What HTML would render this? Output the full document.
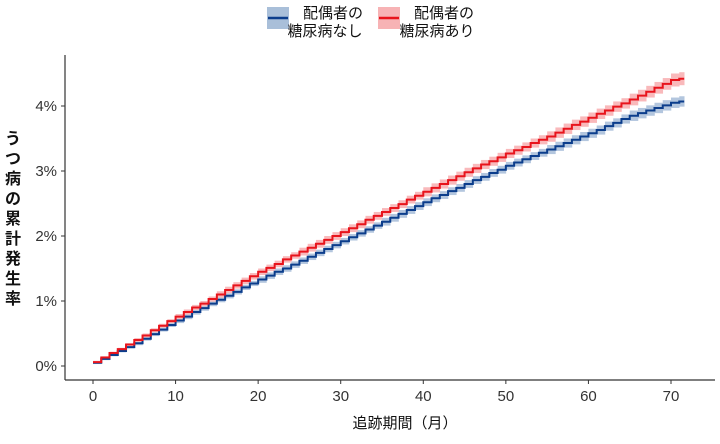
<!DOCTYPE html>
<html><head><meta charset="utf-8"><style>
body{margin:0;background:#fff;width:720px;height:439px;overflow:hidden;font-family:"Liberation Sans","Noto Sans CJK JP",sans-serif;}
</style></head><body>
<svg id="chart" width="720" height="439" xmlns="http://www.w3.org/2000/svg" font-family="Liberation Sans, Noto Sans CJK JP, sans-serif">
<g>
  <g>
    <rect x="267" y="7" width="22" height="22" fill="#a9bfd9"/>
    <line x1="268" y1="18" x2="288" y2="18" stroke="#0b3d8c" stroke-width="2.5"/>
    <text x="333" y="18" font-size="15" text-anchor="middle" fill="#111">配偶者の</text>
    <text x="325" y="36" font-size="15" text-anchor="middle" fill="#111">糖尿病なし</text>
  </g>
  <g>
    <rect x="378" y="7" width="22" height="22" fill="#f7b3b5"/>
    <line x1="379" y1="18" x2="399" y2="18" stroke="#e8141c" stroke-width="2.5"/>
    <text x="444" y="18" font-size="15" text-anchor="middle" fill="#111">配偶者の</text>
    <text x="437" y="36" font-size="15" text-anchor="middle" fill="#111">糖尿病あり</text>
  </g>
</g>
<g id="plot"></g>
<text font-size="16" font-weight="bold" fill="#111" text-anchor="middle">
  <tspan x="13" y="144">う</tspan><tspan x="13" y="164">つ</tspan><tspan x="13" y="184">病</tspan><tspan x="13" y="204">の</tspan><tspan x="13" y="224">累</tspan><tspan x="13" y="244">計</tspan><tspan x="13" y="264">発</tspan><tspan x="13" y="284">生</tspan><tspan x="13" y="304">率</tspan>
</text>
<text x="405" y="428" font-size="15" text-anchor="middle" fill="#111">追跡期間（月）</text>
</svg>
<script>
const months = Array.from({length:72},(_, i)=>i);
const blueValues = [0.05,0.11,0.17,0.23,0.29,0.35,0.42,0.49,0.56,0.63,0.70,0.76,0.83,0.89,0.96,1.02,1.08,1.14,1.21,1.27,1.33,1.39,1.45,1.50,1.56,1.62,1.68,1.74,1.80,1.86,1.92,1.98,2.04,2.10,2.16,2.22,2.28,2.34,2.40,2.46,2.52,2.58,2.63,2.69,2.74,2.80,2.86,2.91,2.97,3.02,3.08,3.13,3.18,3.23,3.28,3.33,3.38,3.43,3.48,3.53,3.58,3.63,3.69,3.74,3.80,3.85,3.89,3.93,3.97,4.01,4.05,4.07];
const redValues = [0.06,0.13,0.20,0.26,0.33,0.40,0.47,0.55,0.62,0.69,0.76,0.83,0.90,0.96,1.03,1.10,1.17,1.24,1.31,1.38,1.45,1.51,1.57,1.64,1.70,1.76,1.82,1.88,1.94,2.00,2.06,2.12,2.18,2.25,2.31,2.37,2.43,2.49,2.56,2.62,2.68,2.74,2.80,2.86,2.92,2.98,3.04,3.10,3.15,3.21,3.27,3.32,3.37,3.43,3.48,3.53,3.59,3.65,3.71,3.76,3.82,3.88,3.93,3.99,4.04,4.10,4.16,4.22,4.28,4.34,4.40,4.42];
const blueHalfWidth = [0.02,0.03,0.04,0.04,0.05,0.05,0.05,0.06,0.06,0.06,0.06,0.07,0.07,0.08,0.08];
const redHalfWidth = [0.02,0.03,0.04,0.05,0.05,0.06,0.06,0.06,0.07,0.07,0.07,0.08,0.08,0.09,0.10];
const xTicks = [0,10,20,30,40,50,60,70];
const yTicks = [0,1,2,3,4];
const yTickLabels = ["0%","1%","2%","3%","4%"];

const NS="http://www.w3.org/2000/svg";
const X0=93, XS=(671-93)/70, Y0=366, YS=(366-106)/4;
const xs=v=>X0+v*XS, ys=v=>Y0-v*YS;
const plot=document.getElementById('plot');
function mk(tag,attrs){const e=document.createElementNS(NS,tag);for(const k in attrs)e.setAttribute(k,attrs[k]);plot.appendChild(e);return e;}

function stepPath(vals){
  let d=`M${xs(months[0])},${ys(vals[0])}`;
  for(let i=0;i<vals.length;i++){
    const xe=i<vals.length-1?months[i+1]:months[i]+0.6;
    d+=` L${xs(xe)},${ys(vals[i])}`;
    if(i<vals.length-1) d+=` L${xs(xe)},${ys(vals[i+1])}`;
  }
  return d;
}
function bandRects(vals,hw,fill,name){
  for(let i=0;i<vals.length;i++){
    const xe=i<vals.length-1?months[i+1]:months[i]+0.6;
    const h=hw[Math.floor(i/5)];
    const r=mk('rect',{x:xs(months[i]),y:ys(vals[i]+h),width:xs(xe)-xs(months[i])+0.3,height:ys(vals[i]-h)-ys(vals[i]+h),fill:fill});
    
    
  }
}
bandRects(blueValues,blueHalfWidth,'#b3c6de','ci-band-no-diabetes');
bandRects(redValues,redHalfWidth,'#f9b9bb','ci-band-diabetes');
const lb=mk('path',{d:stepPath(blueValues),fill:'none',stroke:'#0b3d8c','stroke-width':2});


const lr=mk('path',{d:stepPath(redValues),fill:'none',stroke:'#e8141c','stroke-width':2});



const ya=mk('line',{x1:65,y1:55,x2:65,y2:380,stroke:'#333','stroke-width':1.2});


const xa=mk('line',{x1:65,y1:380,x2:715,y2:380,stroke:'#333','stroke-width':1.2});


yTicks.forEach((v,i)=>{
  mk('line',{x1:61,y1:ys(v),x2:65,y2:ys(v),stroke:'#333'});
  const t=mk('text',{x:57,y:ys(v)+5,'font-size':15,'text-anchor':'end',fill:'#333'});
  t.textContent=yTickLabels[i];
  
  
});
xTicks.forEach(v=>{
  mk('line',{x1:xs(v),y1:380,x2:xs(v),y2:384,stroke:'#333'});
  const t=mk('text',{x:xs(v),y:401,'font-size':15,'text-anchor':'middle',fill:'#333'});
  t.textContent=v;
  
  
});
</script>
</body></html>
